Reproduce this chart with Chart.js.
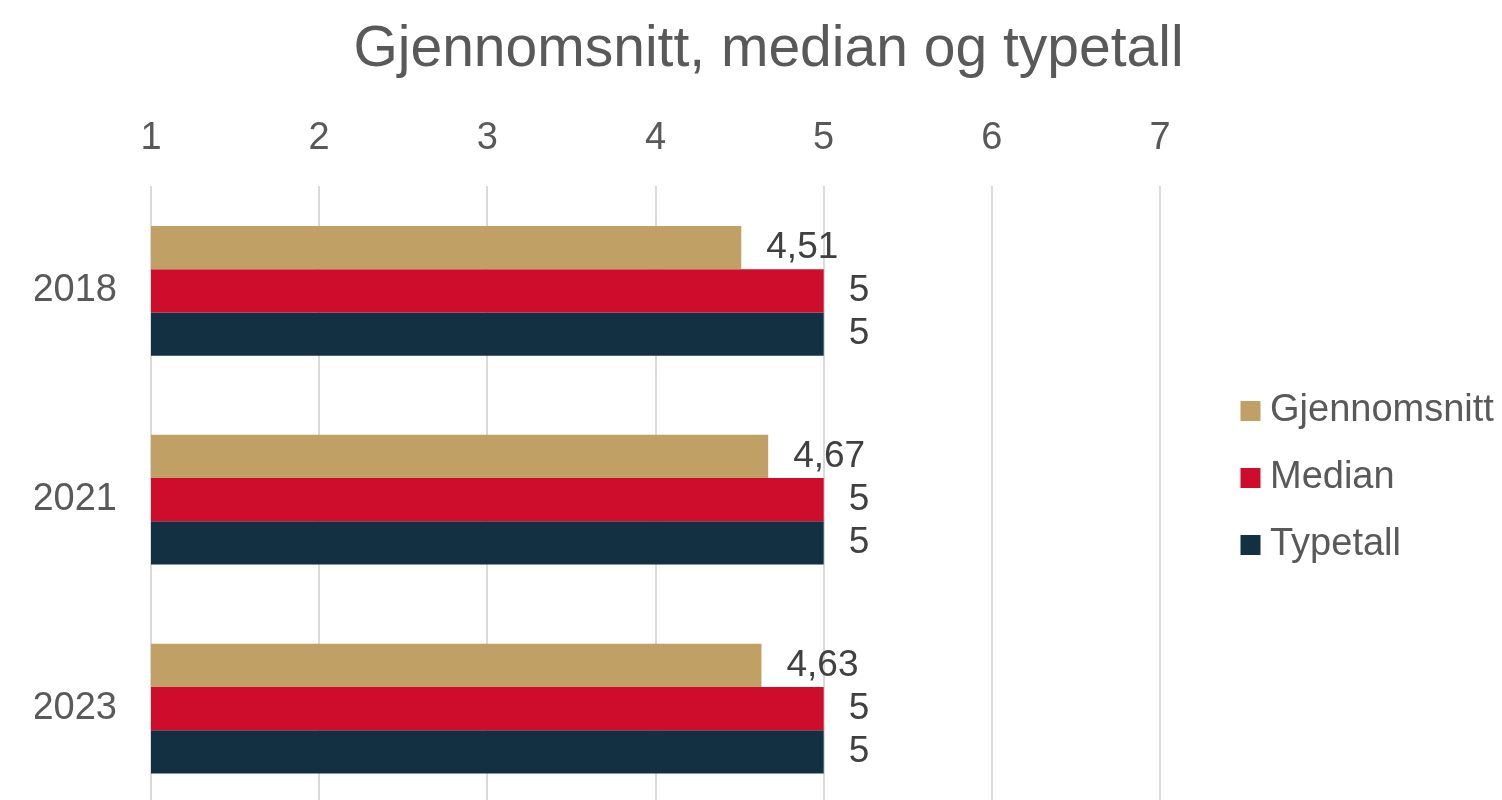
<!DOCTYPE html>
<html>
<head>
<meta charset="utf-8">
<script src="https://cdn.jsdelivr.net/npm/chart.js@4/dist/chart.umd.min.js"></script>
<style>
  html, body { margin: 0; padding: 0; background: #ffffff; overflow: hidden; }
  #wrap { position: relative; width: 1502px; height: 813px; }
</style>
</head>
<body>
<div id="wrap"><canvas id="c"></canvas></div>
<script>
const categories = ['2018', '2021', '2023'];
const seriesNames = ['Gjennomsnitt', 'Median', 'Typetall'];
const gjennomsnitt = [4.51, 4.67, 4.63];
const median = [5, 5, 5];
const typetall = [5, 5, 5];
const xTicks = [1, 2, 3, 4, 5, 6, 7];
const seriesColors = ['#C0A064', '#CE0C2B', '#133043'];
const titleText = 'Gjennomsnitt, median og typetall';

const FONT = '"Liberation Sans", Arial, sans-serif';

function fmt(v) {
  return Number.isInteger(v) ? String(v) : v.toFixed(2).replace('.', ',');
}

const valueLabels = {
  id: 'valueLabels',
  afterDatasetsDraw(chart) {
    const ctx = chart.ctx;
    ctx.save();
    ctx.font = '37px ' + FONT;
    ctx.fillStyle = '#404040';
    ctx.textAlign = 'left';
    ctx.textBaseline = 'middle';
    chart.data.datasets.forEach((ds, di) => {
      const meta = chart.getDatasetMeta(di);
      meta.data.forEach((bar, i) => {
        ctx.fillText(fmt(ds.data[i]), bar.x + 25, bar.y);
      });
    });
    ctx.restore();
  }
};

new Chart(document.getElementById('c'), {
  type: 'bar',
  data: {
    labels: categories,
    datasets: [
      { label: seriesNames[0], data: gjennomsnitt, backgroundColor: seriesColors[0] },
      { label: seriesNames[1], data: median, backgroundColor: seriesColors[1] },
      { label: seriesNames[2], data: typetall, backgroundColor: seriesColors[2] }
    ]
  },
  options: {
    indexAxis: 'y',
    responsive: true,
    maintainAspectRatio: false,
    animation: false,
    layout: { padding: { left: 35, right: 0, top: 0, bottom: 0 } },
    datasets: { bar: { categoryPercentage: 0.621, barPercentage: 1.0, borderWidth: 0 } },
    scales: {
      x: {
        position: 'top',
        min: xTicks[0],
        max: 7.3626,
        afterBuildTicks(scale) {
          scale.ticks = xTicks.map(v => ({ value: v }));
        },
        afterFit(scale) {
          scale.height = 71;
          scale.paddingTop = 0;
          scale.paddingBottom = 0;
        },
        ticks: {
          stepSize: 1,
          includeBounds: false,
          padding: 25,
          color: '#595959',
          font: { family: FONT, size: 38 },
          callback: (v) => String(v)
        },
        grid: { color: '#DADADA', lineWidth: 2, drawTicks: false },
        border: { display: false }
      },
      y: {
        afterFit(scale) {
          scale.width = 116;
          scale.paddingTop = 0;
          scale.paddingBottom = 0;
        },
        ticks: {
          padding: 34,
          color: '#595959',
          font: { family: FONT, size: 38 }
        },
        grid: { display: false, drawTicks: false },
        border: { display: false }
      }
    },
    plugins: {
      title: {
        display: true,
        text: titleText,
        color: '#595959',
        font: { family: FONT, size: 57, weight: 'normal' },
        padding: { top: 16, bottom: 31 }
      },
      legend: {
        display: true,
        position: 'right',
        align: 'start',
        maxWidth: 281,
        title: { display: true, text: '', font: { size: 10 }, padding: { top: 351, bottom: 0 } },
        labels: {
          usePointStyle: true,
          pointStyle: 'rect',
          boxWidth: 1,
          boxHeight: 20,
          padding: 29,
          color: '#595959',
          font: { family: FONT, size: 38 }
        }
      },
      tooltip: { enabled: false }
    }
  },
  plugins: [valueLabels]
});
</script>
</body>
</html>
